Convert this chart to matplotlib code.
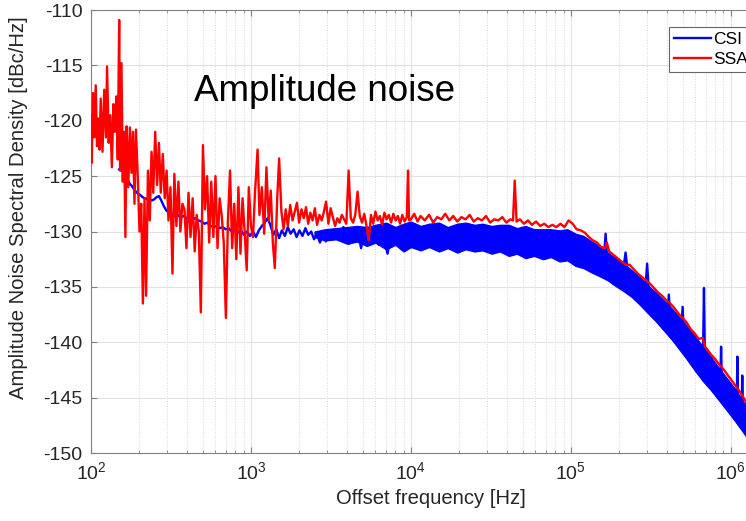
import numpy as np
import matplotlib.pyplot as plt

plt.rcParams['font.family'] = ['Liberation Sans', 'DejaVu Sans']
plt.rcParams['axes.unicode_minus'] = False

# SSA trace (red), Hz / dBc/Hz
ssa_f = [100, 101, 103, 105, 107, 109, 111, 113, 115, 118, 121, 124, 126, 129, 132, 135, 138, 141,
         144, 147, 150, 152, 155, 158, 161, 164, 167, 171, 175, 179, 183, 187, 191, 196, 201, 206,
         211, 216, 221, 227, 233, 239, 245, 252, 259, 266, 273, 281, 289, 297, 305, 314, 323, 332,
         342, 352, 362, 373, 384, 395, 407, 419, 432, 445, 458, 472, 486, 501, 516, 532, 548, 565,
         582, 600, 618, 637, 656, 676, 697, 718, 740, 763, 786, 810, 835, 860, 886, 913, 941, 970,
         1000,
         1030, 1060, 1100, 1130, 1170, 1210, 1250, 1290, 1330, 1370, 1410, 1460,
         1500, 1550, 1600, 1650, 1700, 1760, 1820, 1880, 1940, 2000, 2070, 2140,
         2210, 2280, 2350, 2430, 2510, 2590, 2680, 2770, 2860, 2950, 3050, 3150,
         3250, 3360, 3470, 3580, 3700, 3820, 3950, 4080, 4210, 4350, 4490, 4640,
         4790, 4950, 5110, 5280, 5450, 5630, 5810, 6000, 6200, 6400, 6610, 6830,
         7050, 7280, 7520, 7770, 8030, 8290, 8560, 8840, 9130, 9430, 9600, 9740,
         10000, 10500, 11000, 11500, 12200, 13000, 13800, 14600, 15500, 16400, 17400, 18400,
         19500, 20700, 22000, 23300, 24700, 26200, 27800, 29500, 31300, 33200, 35200, 37300,
         39500, 41900, 43500, 44600, 45800, 48000, 50900, 54000, 57200, 60600, 64300, 68200,
         72300, 76600, 81200, 86100, 91300, 96800, 102600, 108800, 115400, 122300, 129700,
         137500, 145800, 154600, 163900, 168000, 173800, 184300, 195400, 207200, 219700, 232900,
         247000, 261900, 277700, 294400, 312200, 331000, 351000, 372100, 394600, 418400, 443600,
         470400, 498700, 528800, 560700, 594500, 630400, 668400, 690000, 708700, 751500, 796800,
         844900, 895900, 949900, 1007000, 1068000, 1132000, 1200000, 1273000, 1350000]
ssa_db = [-119.5, -123.8, -117.5, -121.5, -116.8, -122.3, -119.8, -122.6, -118.0, -122.8, -117.2,
          -121.5, -115.1, -122.0, -119.5, -124.2, -118.5, -121.0, -117.8, -123.5, -110.9, -124.5,
          -114.8, -125.5, -121.0, -130.5, -120.5, -126.0, -120.6, -124.7, -121.0, -127.5, -120.8,
          -125.0, -130.0, -127.5, -136.5, -127.0, -135.8, -124.5, -129.0, -122.8, -126.5, -121.0,
          -125.8, -122.0, -126.5, -123.0, -127.0, -124.5, -129.0, -126.0, -133.8, -124.8, -129.5,
          -125.5, -130.0, -127.5, -128.0, -131.5, -126.5, -130.5, -127.0, -131.8, -128.5, -130.0,
          -137.3, -122.2, -128.0, -125.0, -131.0, -125.5, -130.5, -125.0, -131.5, -127.0, -128.5,
          -131.0, -137.8, -129.0, -124.5, -131.5, -127.5, -132.5, -126.0, -132.0, -127.0, -130.0,
          -133.5, -126.0, -129.5,
          -130.5, -126.5, -122.6, -128.5, -126.0, -130.2, -124.2, -129.0, -126.3, -131.0, -133.3, -127.0,
          -123.4, -128.2, -129.8, -128.0, -129.5, -127.6, -129.0, -128.2, -127.4, -129.2, -128.0, -128.8,
          -127.8, -129.3, -128.3, -129.0, -127.9, -129.4, -128.5, -129.0, -128.2, -127.3, -129.3, -127.9,
          -128.7, -129.5, -128.8, -129.2, -128.5, -128.9, -129.3, -124.5, -128.8, -129.2, -128.5, -126.4,
          -128.6, -129.2, -128.4, -129.5, -130.8, -128.5, -129.3, -128.2, -129.0, -128.6, -129.4, -128.3,
          -128.9, -128.5, -129.2, -128.4, -129.0, -128.6, -129.3, -128.5, -129.1, -128.7, -124.5, -129.0,
          -128.9, -128.4, -129.1, -128.6, -129.0, -128.5, -129.2, -128.7, -128.9, -128.4, -129.0,
          -128.6, -129.1, -128.7, -128.9, -128.5, -129.1, -128.8, -129.0, -128.6, -129.2, -128.9,
          -129.0, -128.7, -129.2, -128.9, -129.0, -125.4, -129.1, -128.9, -129.3, -129.0, -129.4,
          -129.1, -129.5, -129.3, -129.6, -129.4, -129.6, -129.3, -129.6, -129.0, -129.3, -129.8,
          -129.9, -130.1, -130.5, -130.8, -131.0, -131.4, -131.5, -131.0, -131.8, -132.1, -132.4,
          -132.7, -133.0, -133.0, -133.4, -133.8, -134.1, -134.4, -134.7, -135.1, -135.5, -135.8,
          -136.2, -136.5, -136.9, -137.4, -137.8, -138.2, -138.8, -139.2, -139.7, -139.6, -140.4,
          -140.6, -141.1, -141.5, -142.0, -142.4, -142.9, -143.4, -143.9, -144.4, -145.0, -145.6,
          -146.2]

# CSI trace (blue)
csi_f = [150, 155, 160, 165, 170, 175, 180, 186, 191, 197, 203, 210, 217, 224, 232, 240, 248, 257,
         266, 275, 285, 296, 307, 320, 334, 348, 363, 379, 395, 412, 430, 449, 469, 490, 512, 535,
         559, 584, 610, 637, 665, 695, 726, 758, 792, 827, 864, 903, 943, 985, 1030, 1075, 1120,
         1170, 1220, 1270, 1320, 1380, 1440, 1500, 1560, 1630, 1700, 1770, 1850, 1930, 2010, 2100,
         2190, 2280, 2380, 2480, 2590, 2700, 2820, 2940, 3070, 3200, 3340, 3480, 3630, 3790, 3950,
         4120, 4300, 4490, 4680, 4880, 5090, 5310, 5540, 5780, 6030, 6290, 6560, 6850, 7150, 7460,
         7780, 8120, 8470, 8840, 9220, 9620, 10040, 12000, 16000, 21000, 27000, 35000, 45000,
         60000, 80000, 100000, 130000, 160000, 165000, 170000, 210000, 220000, 230000, 290000,
         300000, 310000, 400000, 410000, 420000, 490000, 500000, 510000, 670000, 680000, 690000,
         860000, 870000, 880000, 1090000, 1100000, 1110000, 1170000, 1180000, 1190000, 1350000]
csi_db = [-124.4, -124.5, -124.6, -125.0, -125.4, -125.7, -125.9, -126.2, -126.4, -126.6, -126.7,
          -126.9, -127.0, -127.1, -127.1, -127.2, -127.1, -126.9, -126.8, -127.2, -127.7, -128.1,
          -128.3, -128.4, -128.6, -128.5, -128.7, -128.6, -128.8, -128.7, -128.9, -128.8, -129.0,
          -129.1, -129.3, -129.2, -129.5, -129.6, -129.5, -129.7, -129.6, -129.8, -129.7, -130.0,
          -129.8, -130.1, -129.9, -130.3, -130.0, -130.4, -130.0, -130.5, -129.9, -129.5, -129.2,
          -128.8, -129.4, -130.3, -129.8, -130.6, -129.9, -130.4, -129.6, -130.2, -129.8, -130.5,
          -129.9, -130.4, -129.7, -130.3, -130.0, -130.7, -130.2, -131.0, -130.3, -130.9, -129.9,
          -130.5, -129.8, -130.6, -130.0, -129.6, -130.4, -131.1, -130.2, -130.8, -130.0, -131.5,
          -130.3, -131.0, -130.1, -130.8, -130.3, -131.2, -130.2, -130.9, -132.0, -130.4, -131.0,
          -130.1, -130.9, -130.3, -131.2, -130.2, -130.8, -130.4, -130.6, -130.5, -130.7, -130.6,
          -130.8, -131.0, -131.0, -131.2, -132.0, -132.9, -130.2, -133.2, -134.0, -131.9, -134.4,
          -136.0, -132.9, -136.3, -138.0, -135.7, -138.2, -139.3, -136.8, -139.5, -141.7, -135.1,
          -141.9, -143.7, -140.4, -143.8, -145.4, -141.3, -145.5, -146.0, -143.0, -146.1, -147.2]

# dense noise band of the CSI trace above ~2.5 kHz
band_f = [2500, 2900, 3400, 4000, 4600, 5300,
          6000, 7000, 8000, 9000, 10000, 11500, 13000, 15000, 17000, 19500, 22000, 25000, 28000,
          32000, 36000, 41000, 46000, 52000, 59000, 67000, 75000, 85000, 95000, 107000, 120000,
          135000, 150000, 170000, 190000, 215000, 240000, 270000, 300000, 340000, 380000, 425000,
          475000, 530000, 600000, 670000, 750000, 840000, 940000, 1050000, 1180000, 1320000]
band_hi = [-130.0, -129.8, -129.7, -129.6, -129.5, -129.6,
           -129.4, -129.2, -129.6, -129.3, -129.1, -129.5, -129.3, -129.2, -129.6, -129.3, -129.2,
           -129.4, -129.3, -129.5, -129.4, -129.4, -129.7, -129.5, -129.8, -129.8, -129.8, -129.9,
           -129.8, -130.2, -130.4, -130.9, -131.3, -131.9, -132.4, -132.9, -133.5, -134.1, -134.8,
           -135.5, -136.2, -136.9, -137.7, -138.5, -139.5, -140.4, -141.3, -142.3, -143.2, -144.1,
           -145.2, -146.3]
band_lo = [-130.5, -130.8, -130.7, -131.1, -130.9, -131.3,
           -131.0, -131.6, -131.2, -131.8, -131.4, -131.7, -131.4, -131.8, -131.5, -131.9, -131.6,
           -131.8, -131.7, -132.0, -131.8, -132.2, -132.0, -132.4, -132.2, -132.5, -132.3, -132.7,
           -132.6, -133.1, -133.3, -133.7, -134.0, -134.4, -134.9, -135.4, -135.9, -136.6, -137.3,
           -138.1, -138.9, -139.7, -140.6, -141.5, -142.6, -143.5, -144.3, -145.2, -146.1, -147.0,
           -148.0, -149.0]

xticks = [1e2, 1e3, 1e4, 1e5, 1e6]
yticks = [-150, -145, -140, -135, -130, -125, -120, -115, -110]

fig = plt.figure(figsize=(7.46, 5.21), dpi=100)
ax = fig.add_axes([0.1220, 0.1305, 0.9102, 0.8503])

ax.fill_between(band_f, band_lo, band_hi, color='#0000ff', lw=1.0, zorder=2)
ax.plot(csi_f, csi_db, color='#0000ff', lw=1.7, label='CSI', zorder=3)
ax.plot(ssa_f, ssa_db, color='#ff0000', lw=1.7, label='SSA', zorder=4)

ax.set_xscale('log')
ax.set_xlim(100, 1.76e6)
ax.set_ylim(-150, -110)
ax.set_xticks(xticks)
ax.set_yticks(yticks)

ax.set_axisbelow(True)
ax.grid(True, which='major', color='#e2e2e2', lw=0.8)
ax.grid(True, which='minor', axis='x', color='#d8d8d8', ls=':', lw=0.7)

for s in ax.spines.values():
    s.set_color('#808080')
    s.set_linewidth(0.8)
ax.tick_params(which='both', direction='in', top=True, right=True, colors='#808080',
               labelcolor='#262626', labelsize=14, pad=6)
ax.tick_params(which='major', length=4)
ax.tick_params(which='minor', length=2.5)

ax.set_xlabel('Offset frequency [Hz]', fontsize=14.6, color='#262626')
ax.set_ylabel('Amplitude Noise Spectral Density [dBc/Hz]', fontsize=14.6, color='#262626')
ax.yaxis.set_label_coords(-0.093, 0.553)

ax.text(440, -117.4, 'Amplitude noise', fontsize=26.5, ha='left', va='center', color='black')

leg = ax.legend(loc='upper left', bbox_to_anchor=(0.851, 0.962), borderaxespad=0,
                fontsize=12.5, handlelength=2.1, handletextpad=0.15, borderpad=0.3,
                labelspacing=0.25, fancybox=False, framealpha=1, edgecolor='#666666')
leg.get_frame().set_linewidth(0.8)

fig.savefig('out.png', dpi=100)
